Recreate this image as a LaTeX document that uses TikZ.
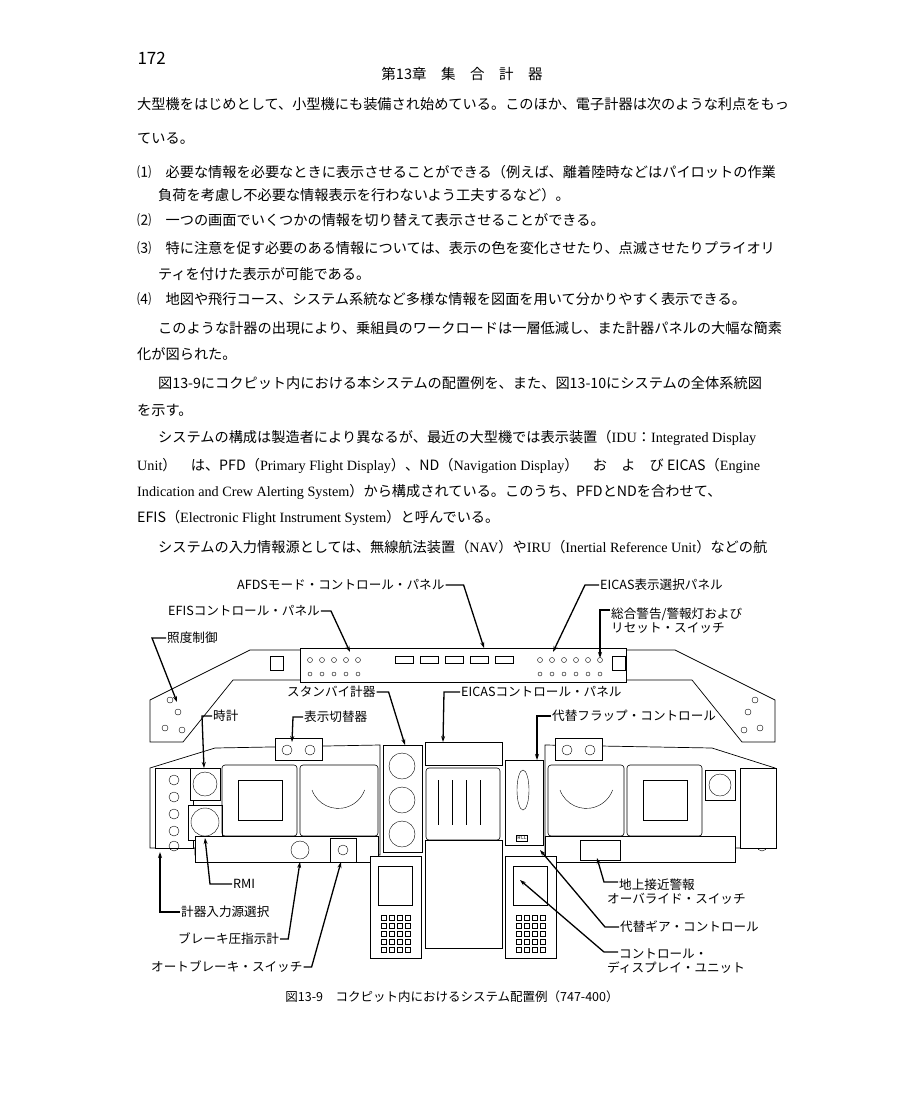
\documentclass[tikz,border=0pt]{standalone}
\usepackage{fontspec}
\setmainfont{Noto Sans CJK JP}
\newfontfamily\latinfont{Liberation Serif}
\usetikzlibrary{arrows.meta}
\tikzset{
	body/.style={anchor=west, inner sep=0pt, font=\fontsize{14.2}{14}\selectfont},
	lbl/.style={anchor=west, inner sep=1pt, font=\fontsize{12.6}{14}\selectfont},
	lead/.style={-{Stealth[length=6pt,width=4pt]}, line width=1.3pt},
	part/.style={draw, line width=0.7pt, fill=white},
	screen/.style={draw, line width=0.6pt, rounded corners=3pt}
}

\begin{document}
\begin{tikzpicture}[x=1pt, y=-1pt]
	\useasboundingbox (0,0) rectangle (920,1104);
	% --- page head ---
	\node[anchor=west, font=\fontsize{17}{17}\selectfont] (pageno) at (134,58) {172};
	\node[font=\fontsize{14.5}{15}\selectfont] (chap) at (462,74) {第13章　集　合　計　器};

	% --- body text ---
	\node[body] (l1) at (137,104) {大型機をはじめとして、小型機にも装備され始めている。このほか、電子計器は次のような利点をもっ};
	\node[body] (l2) at (137,139) {ている。};
	\node[body] (l3) at (137,172) {⑴　必要な情報を必要なときに表示させることができる（例えば、離着陸時などはパイロットの作業};
	\node[body] (l4) at (158,195) {負荷を考慮し不必要な情報表示を行わないよう工夫するなど）。};
	\node[body] (l5) at (137,220) {⑵　一つの画面でいくつかの情報を切り替えて表示させることができる。};
	\node[body] (l6) at (137,248) {⑶　特に注意を促す必要のある情報については、表示の色を変化させたり、点滅させたりプライオリ};
	\node[body] (l7) at (158,274) {ティを付けた表示が可能である。};
	\node[body] (l8) at (137,299) {⑷　地図や飛行コース、システム系統など多様な情報を図面を用いて分かりやすく表示できる。};
	\node[body] (l9) at (158,328) {このような計器の出現により、乗組員のワークロードは一層低減し、また計器パネルの大幅な簡素};
	\node[body] (l10) at (137,354) {化が図られた。};
	\node[body] (l11) at (158,383) {図13-9にコクピット内における本システムの配置例を、また、図13-10にシステムの全体系統図};
	\node[body] (l12) at (137,410) {を示す。};
	\node[body] (l13) at (158,438) {システムの構成は製造者により異なるが、最近の大型機では表示装置（{\latinfont IDU}：{\latinfont Integrated Display}};
	\node[body] (l14) at (137,466) {{\latinfont Unit}）　は、PFD（{\latinfont Primary Flight Display}）、ND（{\latinfont Navigation Display}）　お　よ　び EICAS（{\latinfont Engine}};
	\node[body] (l15) at (137,492) {{\latinfont Indication and Crew Alerting System}）から構成されている。このうち、PFDとNDを合わせて、};
	\node[body] (l16) at (137,518) {EFIS（{\latinfont Electronic Flight Instrument System}）と呼んでいる。};
	\node[body] (l17) at (158,547) {システムの入力情報源としては、無線航法装置（{\latinfont NAV}）や{\latinfont IRU}（{\latinfont Inertial Reference Unit}）などの航};

	% --- glareshield ---
	\draw[part] (150,742) -- (150,700) -- (250,650) -- (675,650) -- (775,700) -- (775,742)
		-- (742,742) -- (692,680) -- (233,680) -- (183,742) -- cycle;
	\draw[part] (300,648) rectangle (626,682);
	\draw[part] (270,656) rectangle (283,670);
	\draw[part] (612,656) rectangle (625,670);
	\foreach \x in {310,322,334,346,358,540,552,564,576,588,600}
		\draw (\x,660) circle (2.5pt) (\x,674) circle (2pt);
	\foreach \x in {395,420,445,470,495}
		\draw (\x,656) rectangle ++(18,7);
	\foreach \p in {(165,728),(178,712),(182,730),(170,700),(760,728),(748,712),(744,730),(755,700)}
		\draw \p circle (3pt);

	% --- main panel ---
	\draw[part] (150,848) -- (150,768) -- (215,748) -- (380,745) -- (380,855) -- (195,855) -- (195,848) -- cycle;
	\draw[part] (775,848) -- (775,768) -- (712,748) -- (545,745) -- (545,855) -- (735,855) -- (735,848) -- cycle;
	\draw[part] (155,768) rectangle (193,848);
	\foreach \y in {780,797,814,831,846}
		\draw (174,\y) circle (5pt) (762,\y) circle (5pt);
	\draw[part] (740,768) rectangle (776,848);
	\draw[part] (275,738) rectangle (322,760);
	\draw[part] (555,738) rectangle (602,760);
	\foreach \x in {287,310,567,590}
		\draw (\x,750) circle (5pt);
	% clocks
	\draw[part] (190,768) rectangle (220,800);
	\draw (205,784) circle (12pt);
	\draw[part] (188,805) rectangle (222,840);
	\draw (205,822) circle (14pt);
	\draw[part] (705,770) rectangle (735,800);
	\draw (720,785) circle (11pt);
	% displays
	\draw[screen] (222,765) rectangle (297,836);
	\draw[screen] (300,765) rectangle (378,836);
	\draw[screen] (548,765) rectangle (624,836);
	\draw[screen] (627,765) rectangle (702,836);
	\draw (238,780) rectangle (282,820);
	\draw (643,780) rectangle (687,820);
	\draw (312,790) arc (200:340:28pt);
	\draw (560,790) arc (200:340:28pt);
	% standby instruments
	\draw[part] (383,745) rectangle (422,852);
	\foreach \y in {766,800,834}
		\draw (402,\y) circle (13pt);
	% EICAS
	\draw[part] (425,742) rectangle (502,765);
	\draw[screen] (426,768) rectangle (500,840);
	\foreach \x in {438,452,466,480}
		\draw (\x,780) -- (\x,825);
	\draw[part] (505,760) rectangle (543,845);
	\draw (523,790) ellipse (6pt and 20pt);
	\node[draw, font=\tiny, inner sep=1pt] (recall) at (522,838) {RCL};
	% lower strip
	\draw[part] (195,836) rectangle (378,862);
	\draw (300,850) circle (9pt);
	\draw[part] (330,838) rectangle (356,862);
	\draw (343,850) circle (5pt);
	\draw[part] (545,836) rectangle (735,862);
	\draw[part] (580,840) rectangle (620,860);
	% pedestal
	\draw[part] (370,856) rectangle (421,958);
	\draw[part] (378,866) rectangle (412,905);
	\draw[part] (425,840) rectangle (502,948);
	\draw[part] (505,856) rectangle (556,958);
	\draw[part] (513,866) rectangle (547,905);
	\foreach \x in {381,389,397,405,516,524,532,540}
		\foreach \y in {915,923,931,939,947}
			\draw (\x,\y) rectangle ++(5,5);

	% --- leader points ---
	\coordinate (afdsP) at (484,648);
	\coordinate (efisP) at (350,652);
	\coordinate (lightP) at (177,702);
	\coordinate (eicasselP) at (553,652);
	\coordinate (mwarnP) at (600,658);
	\coordinate (stbyP) at (405,745);
	\coordinate (eicasctlP) at (443,742);
	\coordinate (clockP) at (204,768);
	\coordinate (dsplP) at (292,742);
	\coordinate (flapP) at (537,760);
	\coordinate (rmiP) at (205,838);
	\coordinate (srcP) at (160,852);
	\coordinate (brakeP) at (300,862);
	\coordinate (abrkP) at (341,862);
	\coordinate (gpwsP) at (597,858);
	\coordinate (gearP) at (540,850);
	\coordinate (cduP) at (520,880);

	% --- labels ---
	\node[lbl] (afds) at (236,585) {AFDSモード・コントロール・パネル};
	\node[lbl] (efis) at (167,611) {EFISコントロール・パネル};
	\node[lbl] (light) at (166,638) {照度制御};
	\node[lbl] (eicassel) at (599,585) {EICAS表示選択パネル};
	\node[lbl, align=left] (mwarn) at (610,621) {総合警告/警報灯および\\リセット・スイッチ};
	\node[lbl] (stby) at (286,692) {スタンバイ計器};
	\node[lbl] (eicasctl) at (460,692) {EICASコントロール・パネル};
	\node[lbl] (clock) at (212,716) {時計};
	\node[lbl] (dspl) at (303,717) {表示切替器};
	\node[lbl] (flap) at (551,716) {代替フラップ・コントロール};
	\node[lbl] (rmi) at (232,884) {RMI};
	\node[lbl] (src) at (180,912) {計器入力源選択};
	\node[lbl] (brake) at (177,939) {ブレーキ圧指示計};
	\node[lbl] (abrk) at (150,967) {オートブレーキ・スイッチ};
	\node[lbl, align=left] (gpws) at (606,892) {\hspace*{12pt}地上接近警報\\オーバライド・スイッチ};
	\node[lbl] (gear) at (619,927) {代替ギア・コントロール};
	\node[lbl, align=left] (cdu) at (606,961) {\hspace*{12pt}コントロール・\\ディスプレイ・ユニット};

	% --- leaders ---
	\draw[lead] (afds.east) -- ++(18,0) -- (afdsP);
	\draw[lead] (efis.east) -- ++(10,0) -- (efisP);
	\draw[lead] (light.west) -- ++(-14,0) -- (lightP);
	\draw[lead] (eicassel.west) -- ++(-14,0) -- (eicasselP);
	\draw[lead] ([yshift=11pt]mwarn.west) -- ++(-10,0) -- (mwarnP);
	\draw[lead] (stby.east) -- ++(12,0) -- (stbyP);
	\draw[lead] (eicasctl.west) -- ++(-16,0) -- (eicasctlP);
	\draw[lead] (clock.west) -- ++(-10,0) -- (clockP);
	\draw[lead] (dspl.west) -- ++(-10,0) -- (dsplP);
	\draw[lead] (flap.west) -- ++(-14,0) -- (flapP);
	\draw[lead] (rmi.west) -- ++(-22,0) -- (rmiP);
	\draw[lead] (src.west) -- ++(-20,0) -- (srcP);
	\draw[lead] (brake.east) -- ++(8,0) -- (brakeP);
	\draw[lead] (abrk.east) -- ++(8,0) -- (abrkP);
	\draw[lead] ([yshift=10pt,xshift=12pt]gpws.west) -- ++(-14,0) -- (gpwsP);
	\draw[lead] (gear.west) -- ++(-14,0) -- (gearP);
	\draw[lead] ([yshift=9pt,xshift=12pt]cdu.west) -- ++(-14,0) -- (cduP);

	% --- caption ---
	\node[font=\fontsize{12.5}{13}\selectfont] (cap) at (452,997) {図13-9　コクピット内におけるシステム配置例（747-400）};
\end{tikzpicture}
\end{document}
